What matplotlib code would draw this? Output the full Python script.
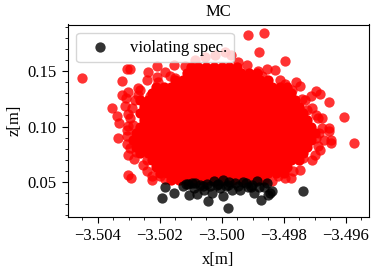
import numpy as np
import matplotlib
matplotlib.use('Agg')
import matplotlib.pyplot as plt
from matplotlib.ticker import MultipleLocator

plt.rcParams['font.family'] = ['Liberation Serif', 'DejaVu Serif']
plt.rcParams['font.size'] = 12

x_center = -3.5

# solid part of the cloud, one list of x offsets [mm] per z level
core_z = [0.154, 0.148, 0.142, 0.136, 0.130, 0.124, 0.118, 0.112, 0.106,
          0.100, 0.094, 0.088, 0.082, 0.076, 0.070, 0.064, 0.058, 0.052]
core_dx = [
    [-1, -.75, -.5, -.25, 0, .25, .5],
    [-1.125, -.875, -.625, -.375, -.125, .125, .375, .625, .875, 1.125],
    [-1.5, -1.25, -1, -.75, -.5, -.25, 0, .25, .5, .75, 1, 1.25, 1.5],
    [-2.125, -1.875, -1.625, -1.375, -1.125, -.875, -.625, -.375, -.125, .125, .375, .625, .875, 1.125, 1.375, 1.625, 1.875, 2.125],
    [-2.25, -2, -1.75, -1.5, -1.25, -1, -.75, -.5, -.25, 0, .25, .5, .75, 1, 1.25, 1.5, 1.75, 2, 2.25],
    [-2.625, -2.375, -2.125, -1.875, -1.625, -1.375, -1.125, -.875, -.625, -.375, -.125, .125, .375, .625, .875, 1.125, 1.375, 1.625, 1.875, 2.125, 2.375],
    [-2.5, -2.25, -2, -1.75, -1.5, -1.25, -1, -.75, -.5, -.25, 0, .25, .5, .75, 1, 1.25, 1.5, 1.75, 2, 2.25, 2.5],
    [-2.625, -2.375, -2.125, -1.875, -1.625, -1.375, -1.125, -.875, -.625, -.375, -.125, .125, .375, .625, .875, 1.125, 1.375, 1.625, 1.875, 2.125, 2.375, 2.625],
    [-2.5, -2.25, -2, -1.75, -1.5, -1.25, -1, -.75, -.5, -.25, 0, .25, .5, .75, 1, 1.25, 1.5, 1.75, 2, 2.25, 2.5, 2.75],
    [-2.625, -2.375, -2.125, -1.875, -1.625, -1.375, -1.125, -.875, -.625, -.375, -.125, .125, .375, .625, .875, 1.125, 1.375, 1.625, 1.875, 2.125, 2.375, 2.625, 2.875],
    [-2.75, -2.5, -2.25, -2, -1.75, -1.5, -1.25, -1, -.75, -.5, -.25, 0, .25, .5, .75, 1, 1.25, 1.5, 1.75, 2, 2.25, 2.5, 2.75, 3],
    [-2.875, -2.625, -2.375, -2.125, -1.875, -1.625, -1.375, -1.125, -.875, -.625, -.375, -.125, .125, .375, .625, .875, 1.125, 1.375, 1.625, 1.875, 2.125, 2.375, 2.625, 2.875],
    [-2.75, -2.5, -2.25, -2, -1.75, -1.5, -1.25, -1, -.75, -.5, -.25, 0, .25, .5, .75, 1, 1.25, 1.5, 1.75, 2, 2.25, 2.5, 2.75],
    [-2.625, -2.375, -2.125, -1.875, -1.625, -1.375, -1.125, -.875, -.625, -.375, -.125, .125, .375, .625, .875, 1.125, 1.375, 1.625, 1.875, 2.125, 2.375, 2.625],
    [-2.25, -2, -1.75, -1.5, -1.25, -1, -.75, -.5, -.25, 0, .25, .5, .75, 1, 1.25, 1.5, 1.75, 2, 2.25, 2.5],
    [-2.125, -1.875, -1.625, -1.375, -1.125, -.875, -.625, -.375, -.125, .125, .375, .625, .875, 1.125, 1.375, 1.625, 1.875, 2.125],
    [-2, -1.75, -1.5, -1.25, -1, -.75, -.5, -.25, 0, .25, .5, .75, 1, 1.25, 1.5, 1.75, 2],
    [-1.625, -1.375, -1.125, -.875, -.625, -.375, -.125, .125, .375, .625, .875, 1.125, 1.375],
]

# scattered points around the cloud
edge_dx = [-4.50, -3.21, -3.05, -2.96, -2.39, -2.10, -1.82, -1.53, -1.18, -2.40,
           -2.10, -1.51, -2.69, -3.03, -3.23, -3.09, -2.71, -3.53, -3.37, -3.30,
           -3.06, -2.87, -3.01, -3.12, .86, 1.37, 1.21, 2.05, .54, .83,
           1.16, 1.47, 1.73, 2.06, 2.41, 2.53, 3.06, 3.19, 2.87, 2.58,
           3.47, 3.95, 3.04, 3.23, 3.47, 3.47, 3.15, 2.74, -3.34, -3.01,
           -2.93, -2.26, -3.01, -2.83, -2.42, -2.40, -3.06, -1.99, -1.56, 4.28,
           3.53, 3.52, 3.01, 3.12, 2.61, 2.31, 2.23, 1.83, 1.72, 2.74,
           3.06,
           # behind the legend
           -.86, -.54, -.21, .10, .30,
           # rim of the cloud, left then right
           -2.64, -2.80, -2.89, -2.96, -3.02, -3.05, -2.96, -2.76, -2.54, -2.25,
           -1.83, -2.31, -2.05, -1.67,
           1.30, 1.88, 2.27, 2.69, 2.91, 3.11, 3.24, 3.30, 3.17, 2.91,
           2.53, 2.04, 1.62]
edge_z = [.1439, .1414, .1520, .1515, .1493, .1550, .1493, .1553, .1544, .1420,
          .1448, .1439, .1349, .1309, .1282, .1259, .1282, .1168, .1099, .1030,
          .0967, .1018, .1114, .1189, .1829, .1847, .1673, .1592, .1583, .1552,
          .1498, .1522, .1511, .1387, .1405, .1363, .1318, .1295, .1273, .1252,
          .1225, .1090, .1108, .1078, .0988, .0958, .0943, .1153, .0898, .0568,
          .0538, .0514, .0748, .0712, .0703, .0604, .0847, .0552, .0538, .0853,
          .0883, .0853, .0748, .0823, .0718, .0604, .0538, .0552, .0597, .0883,
          .0898,
          .1604, .1631, .1649, .1676, .1649,
          .1333, .1243, .1171, .1081, .1009, .0919, .0811, .0775, .0658, .0559,
          .0523, .1280, .1405, .1459,
          .1459, .1423, .1333, .1243, .1171, .1081, .0991, .0883, .0793, .0703,
          .0613, .0541, .0505]

# samples out of spec
bad_dx = [-1.82, -1.94, -1.53, -1.05, -1.24, -.97, -.79, -.70, -.48, -.45,
          -.32, -.25, -.05, .05, .05, .19, .32, .43, .59, .70,
          .86, -1.10, -.85, -.60, -.15, .15, .25, .94, 1.05, 1.13,
          1.27, 1.45, 1.50, 1.56, 1.61, 2.63,
          -1.15, -.89, -.57, -.38, -.12, .20, .53, .78, .98, 1.21, 1.37]
bad_z = [.0459, .0358, .0403, .0387, .0468, .0493, .0394, .0477, .0484, .0333,
         .0403, .0507, .0448, .0516, .0378, .0268, .0432, .0493, .0432, .0502,
         .0457, .0485, .0495, .0460, .0470, .0460, .0500, .0457, .0403, .0507,
         .0342, .0493, .0387, .0403, .0417, .0423,
         .0486, .0450, .0432, .0468, .0486, .0477, .0468, .0495, .0477, .0459, .0459]

core_x = []
core_y = []
for z, row in zip(core_z, core_dx):
    for dx in row:
        core_x.append(x_center + dx / 1000)
        core_y.append(z)

fig = plt.figure(figsize=(3.74, 2.70), dpi=100)
ax = fig.add_axes([68 / 374, 53 / 270, 300.5 / 374, 192.5 / 270])

ax.scatter(core_x, core_y, s=55, c='red', alpha=1, linewidths=0)
ax.scatter(x_center + np.array(edge_dx) / 1000, edge_z, s=55, c='red', alpha=0.8, linewidths=0)
ax.scatter(x_center + np.array(bad_dx) / 1000, bad_z, s=55, c='black', alpha=0.8, linewidths=0, label='violating spec.')

ax.set_xlim(-3.50496, -3.49526)
ax.set_ylim(0.0185, 0.192)
ax.xaxis.set_major_locator(MultipleLocator(0.002))
ax.xaxis.set_minor_locator(MultipleLocator(0.0005))
ax.yaxis.set_major_locator(MultipleLocator(0.05))
ax.yaxis.set_minor_locator(MultipleLocator(0.01))
ax.ticklabel_format(useOffset=False)
ax.tick_params(which='major', length=4.5)
ax.tick_params(which='minor', length=2.5)

ax.set_title('MC', fontsize=12)
ax.set_xlabel('x[m]', labelpad=5.5)
ax.set_ylabel('z[m]', labelpad=4)
ax.legend(loc='upper left')

fig.savefig('out.png', dpi=100)
